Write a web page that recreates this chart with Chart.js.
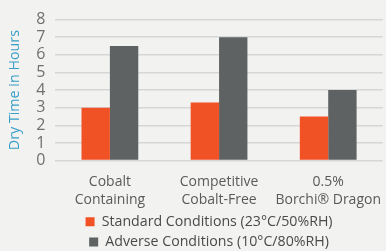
<!DOCTYPE html>
<html>
<head>
<meta charset="utf-8">
<script src="https://cdn.jsdelivr.net/npm/chart.js@4/dist/chart.umd.min.js"></script>
<style>
  html, body { margin: 0; padding: 0; background: #f2f2f1; }
  #wrap { width: 386px; height: 251px; }
</style>
</head>
<body>
<div id="wrap"><canvas id="dryChart"></canvas></div>
<script>
const categories = [["Cobalt", "Containing"], ["Competitive", "Cobalt-Free"], ["0.5%", "Borchi\u00AE Dragon"]];
const standardValues = [3.0, 3.3, 2.5];
const adverseValues = [6.5, 7.0, 4.0];
const seriesNames = ["Standard Conditions (23\u00B0C/50%RH)", "Adverse Conditions (10\u00B0C/80%RH)"];

// nudge the legend a bit to the left, like in the original
const legendShift = {
    id: 'legendShift',
    afterLayout(chart) {
        if (chart.legend) {
            chart.legend.left -= 10;
            chart.legend.right -= 10;
        }
    }
};

const ctx = document.getElementById('dryChart').getContext('2d');
new Chart(ctx, {
    type: 'bar',
    data: {
        labels: categories,
        datasets: [
            { label: seriesNames[0], data: standardValues, backgroundColor: '#f05125' },
            { label: seriesNames[1], data: adverseValues, backgroundColor: '#5e6263' }
        ]
    },
    options: {
        responsive: true,
        maintainAspectRatio: false,
        animation: false,
        layout: { padding: { top: 1, right: -5, left: 3, bottom: -8 } },
        datasets: { bar: { categoryPercentage: 0.52, barPercentage: 1 } },
        scales: {
            x: {
                grid: { display: false },
                border: { display: false },
                ticks: { color: '#5a5a5a', font: { family: 'Open Sans', size: 14, lineHeight: 1.25 }, maxRotation: 0, padding: 5 },
                afterFit: (axis) => { axis.height -= 5; }
            },
            y: {
                min: 0,
                max: 8,
                ticks: { stepSize: 1, autoSkip: false, color: '#707070', font: { family: 'Open Sans', size: 16 }, padding: 10 },
                grid: { color: '#d6d6d6', lineWidth: 1.5, drawTicks: false },
                border: { display: false },
                title: { display: true, text: 'Dry Time in Hours', color: '#3a9fc8', font: { family: 'Open Sans', size: 14.3 }, padding: 3 }
            }
        },
        plugins: {
            legend: {
                position: 'bottom',
                fullSize: false,
                labels: { color: '#4a4a4a', font: { family: 'Open Sans', size: 14.2 }, boxWidth: 9, boxHeight: 9, padding: 6 }
            },
            tooltip: { enabled: false }
        }
    },
    plugins: [legendShift]
});
</script>
</body>
</html>
